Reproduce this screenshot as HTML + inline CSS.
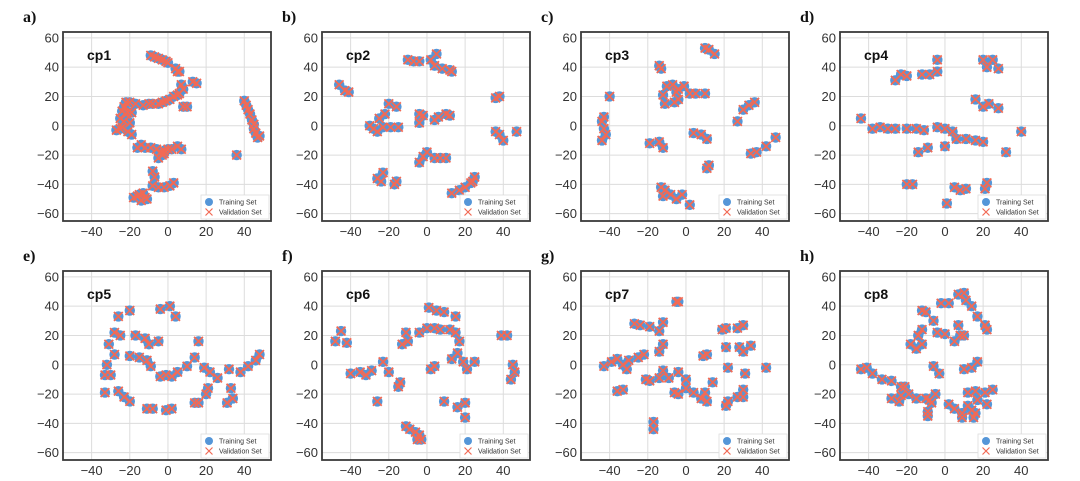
<!DOCTYPE html>
<html><head><meta charset="utf-8"><style>
html,body{margin:0;padding:0;background:#fff;}
svg{display:block;font-family:"Liberation Sans",sans-serif;}
</style></head><body>
<svg id="fig" width="1080" height="481" viewBox="0 0 1080 481" xmlns="http://www.w3.org/2000/svg"></svg>
<script>
const panelLabels = ['a)','b)','c)','d)','e)','f)','g)','h)'];
const panelTitles = ['cp1','cp2','cp3','cp4','cp5','cp6','cp7','cp8'];
const xTicks = [-40,-20,0,20,40];
const yTicks = [-60,-40,-20,0,20,40,60];
const xRange = [-55,54];
const yRange = [-65,64];
const cp1 = [[-9,48],[-7,47],[-5,46],[-3,45],[-1,44],[0,43],[4,39],[5,37],[6,37],[7,28],[8,25],[6,22],[5,21],[3,20],[1,18],[-1,17],[-3,16],[-5,15],[-8,15],[-10,15],[-13,14],[-17,15],[-20,16],[13,30],[15,29],[10,13],[8,13],[-22,16],[-23,13],[-24,10],[-22,8],[-25,5],[-23,3],[-20,2],[-21,9],[-19,9],[-27,-3],[-25,-2],[-21,-4],[-19,-6],[-24,-1],[-16,-15],[-14,-13],[-12,-15],[-9,-15],[-6,-16],[-4,-18],[-2,-17],[0,-16],[2,-16],[5,-14],[7,-16],[-5,-22],[-3,-20],[-2,-19],[-8,-31],[-7,-35],[-8,-41],[-5,-42],[-2,-42],[1,-41],[3,-39],[-18,-49],[-15,-47],[-13,-46],[-12,-49],[-14,-51],[-11,-50],[-16,-48],[40,17],[41,14],[42,11],[43,8],[44,4],[45,1],[45,-2],[46,-5],[48,-7],[47,-8],[36,-20]];
const cp2 = [[-10,45],[-7,44],[-4,44],[2,45],[5,49],[4,41],[8,39],[12,38],[13,37],[-46,28],[-43,24],[-41,23],[36,19],[38,20],[-20,15],[-16,13],[-22,8],[-25,5],[-30,0],[-28,-2],[-26,-4],[-23,-1],[-19,-1],[-15,-1],[-4,8],[-4,2],[-2,7],[4,4],[6,6],[10,8],[12,7],[36,-4],[38,-6],[40,-10],[47,-4],[0,-18],[-2,-21],[-4,-25],[4,-22],[7,-22],[10,-22],[-26,-36],[-23,-32],[-24,-38],[-16,-38],[-17,-40],[13,-46],[17,-44],[20,-42],[23,-39],[25,-35],[24,-38]];
const cp3 = [[10,53],[12,52],[15,49],[-14,41],[-13,39],[-40,20],[-10,27],[-7,28],[-5,23],[-4,25],[-1,27],[-12,21],[-11,15],[-6,16],[-4,18],[2,22],[5,22],[10,22],[-43,6],[-44,3],[-43,-2],[-42,-6],[-44,-10],[30,11],[33,14],[36,16],[27,3],[4,-5],[8,-6],[11,-9],[-19,-12],[-14,-11],[-12,-15],[47,-8],[42,-14],[37,-18],[34,-19],[12,-27],[11,-29],[-13,-42],[-11,-44],[-8,-47],[-5,-50],[-2,-47],[2,-54],[-12,-48]];
const cp4 = [[-4,45],[-26,31],[-23,35],[-20,34],[-12,35],[-8,35],[-4,37],[20,45],[25,45],[22,40],[28,39],[16,18],[20,13],[23,15],[28,12],[-44,5],[-38,-2],[-34,-1],[-30,-2],[-26,-2],[-20,-2],[-15,-2],[-11,-3],[-4,-1],[0,-2],[4,-4],[0,-14],[6,-9],[11,-9],[16,-10],[20,-11],[40,-4],[32,-18],[-14,-18],[-9,-15],[-20,-40],[-17,-40],[5,-42],[8,-44],[11,-43],[22,-39],[21,-43],[1,-53]];
const cp5 = [[-26,33],[-20,37],[-4,38],[1,40],[4,33],[-28,22],[-25,20],[-31,14],[-28,7],[-32,0],[-33,-7],[-30,-7],[-17,20],[-12,18],[-10,14],[-5,16],[-20,6],[-15,5],[-11,3],[-9,-1],[-4,-8],[-1,-7],[2,-8],[5,-5],[16,16],[14,5],[10,-1],[19,-2],[22,-5],[26,-9],[32,-3],[38,-5],[42,-1],[46,3],[48,7],[-33,-19],[-26,-18],[-23,-22],[-20,-25],[-11,-30],[-8,-30],[-1,-31],[2,-30],[14,-26],[16,-26],[21,-16],[20,-20],[33,-16],[34,-23],[31,-26]];
const cp6 = [[-48,16],[-45,23],[-42,15],[1,39],[5,37],[9,36],[15,33],[-11,22],[-13,14],[-10,16],[-4,22],[0,25],[4,25],[7,24],[12,24],[15,22],[17,16],[39,20],[42,20],[16,8],[13,4],[19,2],[21,-3],[25,2],[4,-1],[2,-3],[45,0],[46,-5],[44,-10],[-40,-6],[-35,-5],[-32,-7],[-29,-4],[-23,2],[-20,-5],[-15,-15],[-14,-12],[-26,-25],[9,-25],[16,-29],[20,-26],[20,-36],[-11,-42],[-9,-44],[-6,-46],[-4,-48],[-3,-51],[-5,-51]];
const cp7 = [[-5,43],[-4,43],[-27,28],[-24,27],[-19,26],[-14,23],[-12,29],[-14,9],[-12,14],[-43,-1],[-39,2],[-36,4],[-33,0],[-30,3],[-31,-3],[-25,5],[-22,7],[-21,-10],[-19,-11],[-14,-9],[-12,-4],[-9,-9],[-4,-5],[0,-10],[-36,-18],[-33,-17],[-6,-19],[-4,-20],[0,-16],[4,-19],[8,-23],[11,-25],[10,-19],[14,-12],[9,6],[11,7],[19,24],[21,25],[27,25],[30,27],[21,12],[28,12],[30,9],[34,13],[22,-2],[31,-6],[42,-2],[30,-17],[27,-22],[30,-22],[22,-25],[21,-28],[-17,-39],[-17,-44]];
const cp8 = [[7,48],[10,49],[11,44],[14,40],[17,33],[-2,42],[2,42],[-12,37],[-10,36],[-6,30],[-4,22],[0,21],[5,16],[8,20],[7,27],[10,20],[21,27],[22,24],[-12,24],[-14,20],[-18,14],[-15,11],[-12,14],[-44,-3],[-41,-2],[-38,-6],[-6,-1],[-3,-6],[10,-3],[14,-2],[17,2],[-33,-10],[-28,-11],[-23,-15],[-21,-15],[-28,-23],[-23,-21],[-24,-25],[-19,-20],[-15,-23],[-10,-23],[-8,-24],[-5,-20],[-7,-26],[-9,-32],[-9,-35],[2,-27],[5,-30],[9,-33],[9,-36],[12,-28],[14,-31],[16,-33],[15,-36],[12,-19],[16,-18],[17,-24],[22,-27],[21,-19],[25,-17]];
const panelData = [cp1,cp2,cp3,cp4,cp5,cp6,cp7,cp8];

const NS='http://www.w3.org/2000/svg';
const svg=document.getElementById('fig');
function mk(tag,attrs,parent){const e=document.createElementNS(NS,tag);for(const k in attrs)e.setAttribute(k,attrs[k]);(parent||svg).appendChild(e);return e;}
const lefts=[63,322,581,840], tops=[32,271], W=208, H=189;
panelData.forEach((pts,i)=>{
  const L=lefts[i%4], T=tops[Math.floor(i/4)];
  const sx=v=>L+(v-xRange[0])/(xRange[1]-xRange[0])*W;
  const sy=v=>T+H-(v-yRange[0])/(yRange[1]-yRange[0])*H;
  const g=mk('g',{});
  
  
  xTicks.forEach(t=>{
    const l=mk('line',{x1:sx(t),x2:sx(t),y1:T,y2:T+H,stroke:'#dcdcdc','stroke-width':1},g);
    
    
    const tx=mk('text',{x:sx(t),y:T+H+15,'text-anchor':'middle','font-size':13,fill:'#333'},g);
    
    
    tx.textContent=(t<0?'\u2212'+(-t):t);
  });
  yTicks.forEach(t=>{
    const l=mk('line',{x1:L,x2:L+W,y1:sy(t),y2:sy(t),stroke:'#dcdcdc','stroke-width':1},g);
    
    
    const tx=mk('text',{x:L-4,y:sy(t)+4.5,'text-anchor':'end','font-size':13,fill:'#333'},g);
    
    
    tx.textContent=(t<0?'\u2212'+(-t):t);
  });
  pts.forEach(p=>{
    const c=mk('circle',{cx:sx(p[0]),cy:sy(p[1]),r:5.2,fill:'#5596d8'},g);
    
    
  });
  pts.forEach(p=>{
    const x=sx(p[0]),y=sy(p[1]),d=4.4;
    const m=mk('path',{d:`M${x-d},${y-d}L${x+d},${y+d}M${x-d},${y+d}L${x+d},${y-d}`,stroke:'#f26a55','stroke-width':1.8,fill:'none'},g);
    
    
  });
  const fr=mk('rect',{x:L,y:T,width:W,height:H,fill:'none',stroke:'#3a3a3a','stroke-width':1.8},g);
  
  
  const tt=mk('text',{x:L+24,y:T+28,'font-size':14,'font-weight':'bold',fill:'#111'},g);
  
  
  tt.textContent=panelTitles[i];
  const pl=mk('text',{x:L-40,y:T-10,'font-size':16,'font-weight':'bold',fill:'#111','font-family':'Liberation Serif, serif'},g);
  
  
  pl.textContent=panelLabels[i];
  const lg=mk('g',{},g);
  
  
  mk('rect',{x:L+W-70,y:T+H-26,width:68,height:24,fill:'#fff',stroke:'#ddd','stroke-width':0.8},lg);
  mk('circle',{cx:L+W-62,cy:T+H-19,r:4,fill:'#5596d8'},lg);
  const lx=L+W-62,ly=T+H-9;
  mk('path',{d:`M${lx-3.5},${ly-3.5}L${lx+3.5},${ly+3.5}M${lx-3.5},${ly+3.5}L${lx+3.5},${ly-3.5}`,stroke:'#f26a55','stroke-width':1.2},lg);
  const t1=mk('text',{x:L+W-52,y:T+H-16.5,'font-size':7,fill:'#333'},lg);
  
  
  t1.textContent='Training Set';
  const t2=mk('text',{x:L+W-52,y:T+H-6.5,'font-size':7,fill:'#333'},lg);
  
  
  t2.textContent='Validation Set';
});
</script>
</body></html>
